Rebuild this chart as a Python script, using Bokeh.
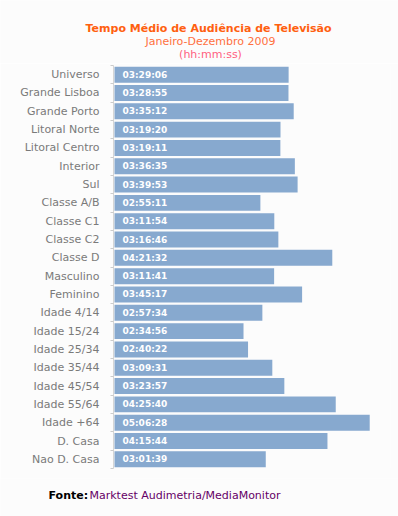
from bokeh.plotting import figure
from bokeh.layouts import column, row
from bokeh.models import ColumnDataSource, FixedTicker, Range1d
from bokeh.core.properties import value
from bokeh.embed import file_html
from bokeh.resources import INLINE

categories = ["Universo", "Grande Lisboa", "Grande Porto", "Litoral Norte", "Litoral Centro",
              "Interior", "Sul", "Classe A/B", "Classe C1", "Classe C2", "Classe D",
              "Masculino", "Feminino", "Idade 4/14", "Idade 15/24", "Idade 25/34",
              "Idade 35/44", "Idade 45/54", "Idade 55/64", "Idade +64", "D. Casa", "Nao D. Casa"]
times = ["03:29:06", "03:28:55", "03:35:12", "03:19:20", "03:19:11", "03:36:35", "03:39:53",
         "02:55:11", "03:11:54", "03:16:46", "04:21:32", "03:11:41", "03:45:17", "02:57:34",
         "02:34:56", "02:40:22", "03:09:31", "03:23:57", "04:25:40", "05:06:28", "04:15:44",
         "03:01:39"]
title_lines = ["Tempo Médio de Audiência  de Televisão", "Janeiro-Dezembro 2009", "(hh:mm:ss)"]
source_label = "Fonte:"
source_text = "Marktest Audimetria/MediaMonitor"

def to_sec(t):
    h, m, s = (int(v) for v in t.split(":"))
    return h * 3600 + m * 60 + s

seconds = [to_sec(t) for t in times]
n = len(categories)
ypos = [n - 1 - i for i in range(n)]

FONT = "DejaVu Sans"
BG = "#fcfcfc"
W = 398

def blank_fig(h):
    f = figure(width=W, height=h, output_backend="svg", toolbar_location=None,
               x_range=Range1d(0, W), y_range=Range1d(h, 0),
               min_border=0, min_border_left=0, min_border_right=0,
               min_border_top=0, min_border_bottom=0,
               background_fill_color=BG, border_fill_color=BG, outline_line_color=None,
               x_axis_location=None, y_axis_location=None)
    f.xgrid.visible = False
    f.ygrid.visible = False
    return f

# ---- title block ----
TH = 63
top = blank_fig(TH)
top.text(x=[210], y=[28], text=[title_lines[0]], text_align="center", text_baseline="middle",
         text_color="#ff6010", text_font=value(FONT), text_font_style="bold", text_font_size="11px")
top.text(x=[210], y=[41], text=[title_lines[1]], text_align="center", text_baseline="middle",
         text_color="#ff7040", text_font=value(FONT), text_font_size="11px")
top.text(x=[210], y=[54], text=[title_lines[2]], text_align="center", text_baseline="middle",
         text_color="#ff6080", text_font=value(FONT), text_font_size="11px")

# ---- main chart ----
src = ColumnDataSource(dict(y=ypos, sec=seconds, lab=times, zero=[0] * n))

MH = 415
p = figure(width=W, height=MH, output_backend="svg", toolbar_location=None,
           x_range=Range1d(-72, 19886), y_range=Range1d(-0.5, n - 0.5),
           min_border_left=113, min_border_right=8, min_border_top=2, min_border_bottom=10,
           background_fill_color=BG, border_fill_color=BG, outline_line_color=None,
           x_axis_location=None)
p.xgrid.visible = False
p.ygrid.visible = False

p.hbar(y="y", left="zero", right="sec", height=0.87, source=src,
       fill_color="#87a9cf", line_color=None)
p.text(x="zero", y="y", text="lab", source=src, x_offset=8, text_baseline="middle",
       text_color="white", text_font=value(FONT), text_font_style="bold", text_font_size="9px")

ax = p.yaxis[0]
ax.ticker = FixedTicker(ticks=ypos, minor_ticks=[k - 0.5 for k in range(n + 1)])
ax.major_label_overrides = {y: c for y, c in zip(ypos, categories)}
ax.axis_line_color = "#d6d6d6"
ax.major_tick_line_color = None
ax.major_tick_out = 0
ax.major_tick_in = 0
ax.minor_tick_line_color = "#cccccc"
ax.minor_tick_out = 3
ax.minor_tick_in = 0
ax.major_label_standoff = 11
ax.major_label_text_font = FONT
ax.major_label_text_font_size = "11px"
ax.major_label_text_color = "#7a7a7a"

# ---- footer ----
FH = 516 - TH - MH
foot = blank_fig(FH)
foot.text(x=[48], y=[495 - TH - MH], text=[source_label], text_align="left", text_baseline="middle",
          text_color="#000000", text_font=value(FONT), text_font_style="bold", text_font_size="11px")
foot.text(x=[89], y=[495 - TH - MH], text=[source_text], text_align="left", text_baseline="middle",
          text_color="#660066", text_font=value(FONT), text_font_size="11px")

layout = column(row(top, spacing=0), p, row(foot, spacing=0), spacing=0)
open("out.html", "w").write(file_html(layout, INLINE))
